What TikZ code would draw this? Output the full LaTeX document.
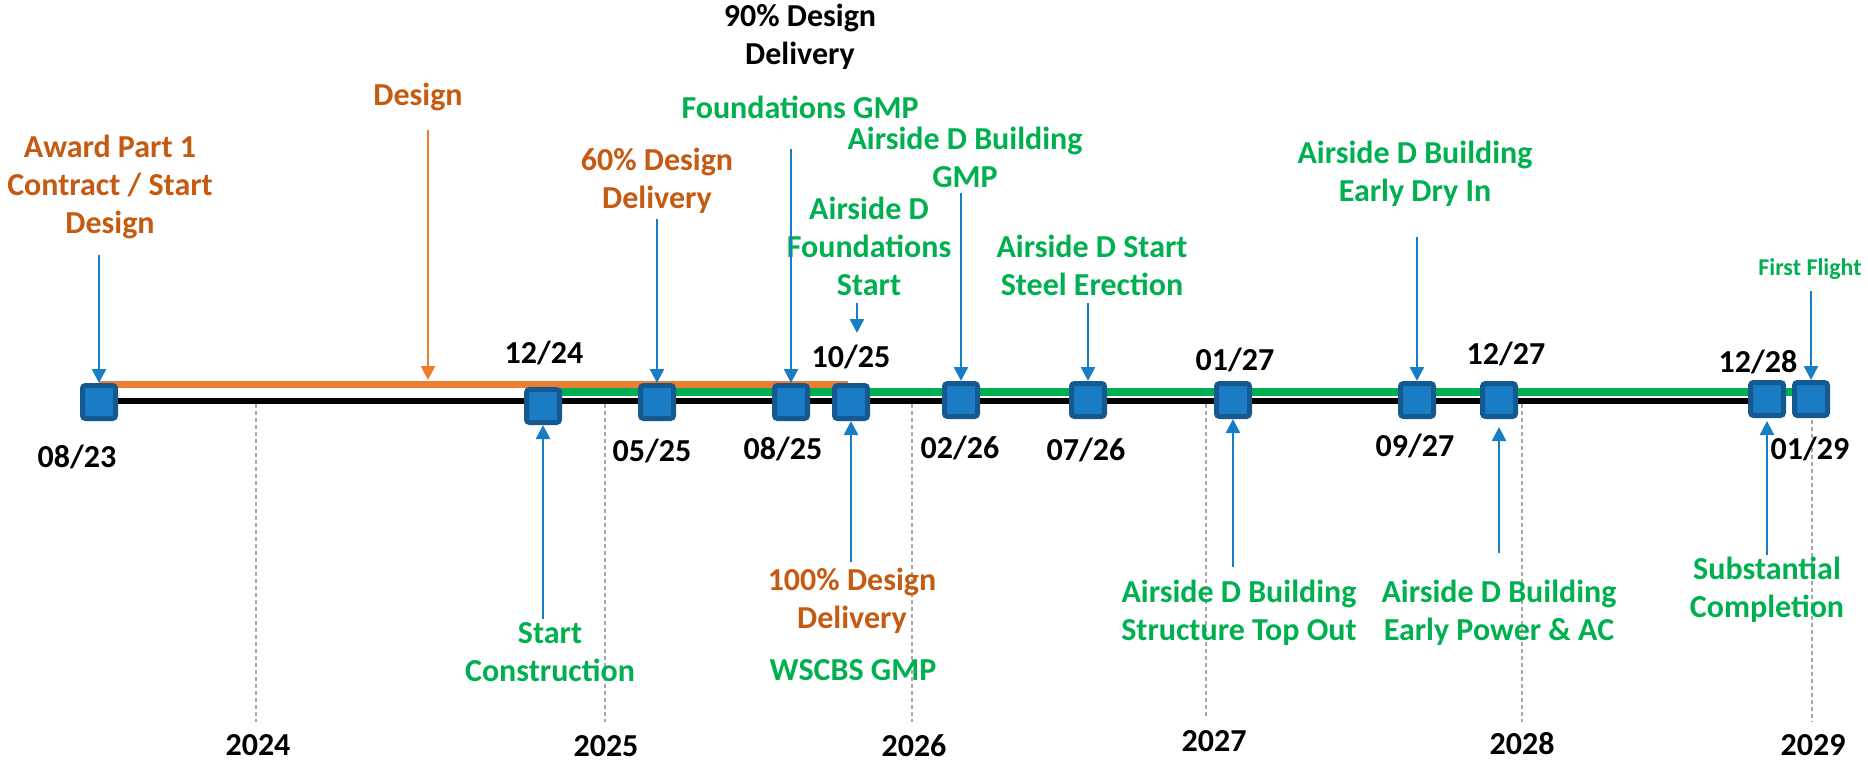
\documentclass[tikz,border=0pt]{standalone}
\usepackage{fontspec}
\setmainfont{Carlito}
\usetikzlibrary{arrows.meta}
\definecolor{otext}{HTML}{C55A11}
\definecolor{gtext}{HTML}{00B050}
\definecolor{barrow}{HTML}{187DC4}
\definecolor{sqfill}{HTML}{1A7CC4}
\definecolor{sqborder}{HTML}{14598F}
\definecolor{obar}{HTML}{ED7D31}
\definecolor{gbar}{HTML}{00B050}
\definecolor{gridgrey}{HTML}{A6A6A6}
\tikzset{
  lbl/.style={inner sep=0pt, align=center, font=\bfseries\fontsize{32}{38}\selectfont},
  olbl/.style={lbl, text=otext},
  glbl/.style={lbl, text=gtext},
  klbl/.style={lbl, text=black},
  datelbl/.style={lbl, text=black},
  msq/.style={draw=sqborder, fill=sqfill, line width=5pt, rounded corners=3pt, minimum size=33pt, inner sep=0pt},
  arr/.style={draw=barrow, line width=2.5pt, -{Triangle[length=14pt,width=14pt]}},
  oarr/.style={draw=obar, line width=2.5pt, -{Triangle[length=14pt,width=14pt]}},
  yearline/.style={draw=gridgrey, line width=1.2pt, dash pattern=on 4pt off 3pt},
}
\begin{document}
\begin{tikzpicture}[x=1pt,y=-1pt]
\useasboundingbox (0,0) rectangle (1868,762);
% year grid lines
\coordinate (g24a) at (256,404); \coordinate (g24b) at (256,722);
\coordinate (g25a) at (605,404); \coordinate (g25b) at (605,722);
\coordinate (g26a) at (912,404); \coordinate (g26b) at (912,722);
\coordinate (g27a) at (1206,404); \coordinate (g27b) at (1206,719);
\coordinate (g28a) at (1522,404); \coordinate (g28b) at (1522,722);
\coordinate (g29a) at (1812,420); \coordinate (g29b) at (1812,722);
\foreach \g in {24,25,26,27,28,29} { \draw[yearline] (g\g a) -- (g\g b); }
% bars
\coordinate (kb0) at (99,401); \coordinate (kb1) at (1770,401);
\coordinate (gb0) at (543,392); \coordinate (gb1) at (1811,392);
\coordinate (ob0) at (99,384); \coordinate (ob1) at (848,384);
\draw[black, line width=6pt] (kb0) -- (kb1);
\draw[gbar, line width=8pt] (gb0) -- (gb1);
\draw[obar, line width=7pt] (ob0) -- (ob1);
% milestones
\node[msq] (s0823) at (99,402) {};
\node[msq] (s1224) at (543,406) {};
\node[msq] (s0525) at (657,402) {};
\node[msq] (s0825) at (791,402) {};
\node[msq] (s1025) at (851,402) {};
\node[msq] (s0226) at (961,400) {};
\node[msq] (s0726) at (1088,400) {};
\node[msq] (s0127) at (1233,400) {};
\node[msq] (s0927) at (1417,400) {};
\node[msq] (s1227) at (1499,400) {};
\node[msq] (s1228) at (1767,399) {};
\node[msq] (s0129) at (1811,399) {};
% date labels
\node[datelbl] (d0823) at (77,457) {08/23};
\node[datelbl] (d1224) at (544,353) {12/24};
\node[datelbl] (d0525) at (652,451) {05/25};
\node[datelbl] (d0825) at (783,449) {08/25};
\node[datelbl] (d1025) at (851,357) {10/25};
\node[datelbl] (d0226) at (960,448) {02/26};
\node[datelbl] (d0726) at (1086,450) {07/26};
\node[datelbl] (d0127) at (1235,360) {01/27};
\node[datelbl] (d0927) at (1415,446) {09/27};
\node[datelbl] (d1227) at (1506,354) {12/27};
\node[datelbl] (d1228) at (1758,362) {12/28};
\node[datelbl] (d0129) at (1810,449) {01/29};
% years
\node[datelbl] (y24) at (258,745) {2024};
\node[datelbl] (y25) at (606,746) {2025};
\node[datelbl] (y26) at (914,746) {2026};
\node[datelbl] (y27) at (1214,741) {2027};
\node[datelbl] (y28) at (1522,744) {2028};
\node[datelbl] (y29) at (1813,745) {2029};
% top labels
\node[olbl] (award) at (110,187) {Award Part 1\\Contract / Start\\Design};
\node[olbl] (design) at (418,97) {Design};
\node[olbl] (d60) at (657,181) {60\% Design\\Delivery};
\node[klbl] (d90) at (800,37) {90\% Design\\Delivery};
\node[glbl] (fgmp) at (800,107) {Foundations GMP};
\node[glbl] (adbg) at (965,157) {Airside D Building\\GMP};
\node[glbl] (adfs) at (869,246) {Airside D\\Foundations\\Start};
\node[glbl] (adsse) at (1092,265) {Airside D Start\\Steel Erection};
\node[glbl] (adedi) at (1415,174) {Airside D Building\\Early Dry In};
\node[glbl, font=\bfseries\fontsize{24}{29}\selectfont] (ff) at (1810,269) {First Flight};
% bottom labels
\node[glbl] (startc) at (550,652) {Start\\Construction};
\node[olbl] (d100) at (852,601) {100\% Design\\Delivery};
\node[glbl] (wscbs) at (853,670) {WSCBS GMP};
\node[glbl] (adsto) at (1239,613) {Airside D Building\\Structure Top Out};
\node[glbl] (adepac) at (1499,613) {Airside D Building\\Early Power \& AC};
\node[glbl] (subst) at (1767,590) {Substantial\\Completion};
% arrow tails
\coordinate (t0823) at (99,255);
\coordinate (tdes) at (428,130);
\coordinate (hdes) at (428,380);
\coordinate (t0525) at (657,219);
\coordinate (t0825) at (791,149);
\coordinate (t0226) at (961,193);
\coordinate (t0726) at (1088,303);
\coordinate (t0927) at (1417,237);
\coordinate (t0129) at (1811,291);
\coordinate (tfs) at (857,303);
\coordinate (hfs) at (857,333);
\coordinate (t1224) at (543,619);
\coordinate (t1025) at (851,562);
\coordinate (t0127) at (1233,567);
\coordinate (t1227) at (1499,553);
\coordinate (t1228) at (1767,555);
% arrows down
\draw[arr] (t0823) -- (s0823.north);
\draw[oarr] (tdes) -- (hdes);
\draw[arr] (t0525) -- (s0525.north);
\draw[arr] (t0825) -- (s0825.north);
\draw[arr] (t0226) -- (s0226.north);
\draw[arr] (t0726) -- (s0726.north);
\draw[arr] (t0927) -- (s0927.north);
\draw[arr] (t0129) -- (s0129.north);
\draw[arr] (tfs) -- (hfs);
% arrows up
\draw[arr] (t1224) -- (s1224.south);
\draw[arr] (t1025) -- (s1025.south);
\draw[arr] (t0127) -- (s0127.south);
\draw[arr, shorten >=8pt] (t1227) -- (s1227.south);
\draw[arr, shorten >=3pt] (t1228) -- (s1228.south);
\end{tikzpicture}
\end{document}
